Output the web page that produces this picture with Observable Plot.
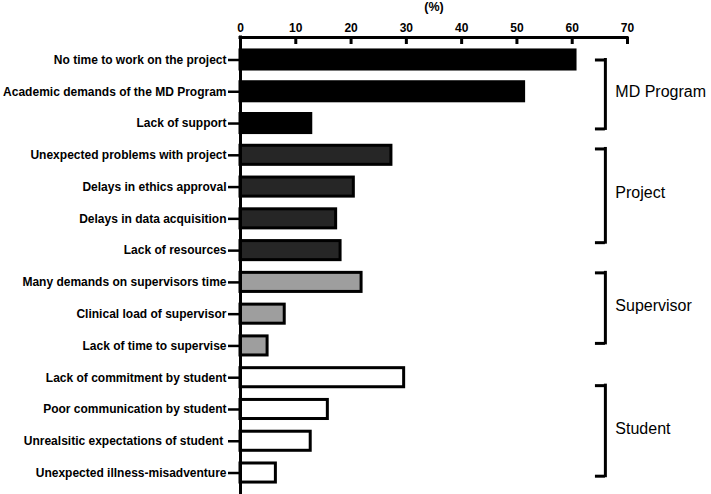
<!DOCTYPE html>
<html><head><meta charset="utf-8">
<script src="https://cdn.jsdelivr.net/npm/d3@7"></script>
<script src="https://cdn.jsdelivr.net/npm/@observablehq/plot@0.6"></script>
<style>body{margin:0;background:#fff;} svg{display:block;}</style>
</head><body><div id="chart"></div>
<script>
const categories = [
  "No time to work on the project",
  "Academic demands of the MD Program",
  "Lack of support",
  "Unexpected problems with project",
  "Delays in ethics approval",
  "Delays in data acquisition",
  "Lack of resources",
  "Many demands on supervisors time",
  "Clinical load of supervisor",
  "Lack of time to supervise",
  "Lack of commitment by student",
  "Poor communication by student",
  "Unrealsitic expectations of student\u00a0",
  "Unexpected illness-misadventure"
];
const values = [60.6, 51.3, 12.8, 27.3, 20.5, 17.3, 18.1, 21.9, 8.0, 4.9, 29.6, 15.8, 12.7, 6.4];
const groupOf = [
  "MD Program", "MD Program", "MD Program",
  "Project", "Project", "Project", "Project",
  "Supervisor", "Supervisor", "Supervisor",
  "Student", "Student", "Student", "Student"
];
const groupNames = ["MD Program", "Project", "Supervisor", "Student"];
const bracketTop = [0.0, 2.8, 6.7, 10.25];
const bracketBottom = [2.17, 5.75, 8.92, 13.1];
const xTicks = [0, 10, 20, 30, 40, 50, 60, 70];
const axisTitle = "(%)";

const fills = {"MD Program": "#000000", "Project": "#262626", "Supervisor": "#9e9e9e", "Student": "#ffffff"};

const rows = categories.map((c, i) => ({i, category: c, value: values[i], group: groupOf[i]}));
const groups = groupNames.map((g, k) => ({name: g, top: bracketTop[k], bottom: bracketBottom[k]}));

const yTop = -0.708, yBottom = 13.676, rowPx = 31.77;
const barHalf = 0.3;
const font = "Arial, 'Liberation Sans', Helvetica, sans-serif";

const chart = Plot.plot({
  width: 711, height: 494,
  marginLeft: 240, marginRight: 84, marginTop: 37, marginBottom: 0,
  style: {fontFamily: font, background: "#fff", color: "#000"},
  x: {domain: [0, 70]},
  y: {domain: [yBottom, yTop]},
  marks: [
    Plot.rect(rows, {x1: 0, x2: "value", y1: d => d.i - barHalf, y2: d => d.i + barHalf,
      fill: d => fills[d.group], stroke: "#000", strokeWidth: 3}),
    Plot.ruleX([0], {y1: yTop, y2: yBottom, stroke: "#000", strokeWidth: 3, strokeLinecap: "square"}),
    Plot.ruleY([yTop], {x1: 0, x2: 70, stroke: "#000", strokeWidth: 3, strokeLinecap: "square"}),
    Plot.ruleX(xTicks, {x: d => d, y1: yTop, y2: yTop + 7 / rowPx, stroke: "#000", strokeWidth: 3}),
    Plot.axisX({anchor: "top", ticks: xTicks, tickSize: 0, tickPadding: 6, fontSize: 12, fontWeight: "bold",
      label: null}),
    Plot.text([axisTitle], {frameAnchor: "top", dy: -35, lineAnchor: "top", text: d => d,
      fontSize: 12.5, fontWeight: "bold", fill: "#000"}),
    Plot.axisY({ticks: d3.range(categories.length), tickFormat: i => categories[i], tickSize: 12, tickPadding: 2,
      strokeWidth: 2.5, fontSize: 12, fontWeight: "bold"}),
    Plot.ruleX(groups, {x: 66, y1: "top", y2: "bottom", stroke: "#000", strokeWidth: 3, strokeLinecap: "square"}),
    Plot.ruleY(groups, {y: "top", x1: 64.2, x2: 66, stroke: "#000", strokeWidth: 3}),
    Plot.ruleY(groups, {y: "bottom", x1: 64.2, x2: 66, stroke: "#000", strokeWidth: 3}),
    Plot.text(groups, {x: 67.8, y: d => (d.top + d.bottom) / 2 - 0.08, text: "name", textAnchor: "start",
      fontSize: 16, fill: "#000"})
  ]
});
document.getElementById("chart").appendChild(chart);
</script>
</body></html>
